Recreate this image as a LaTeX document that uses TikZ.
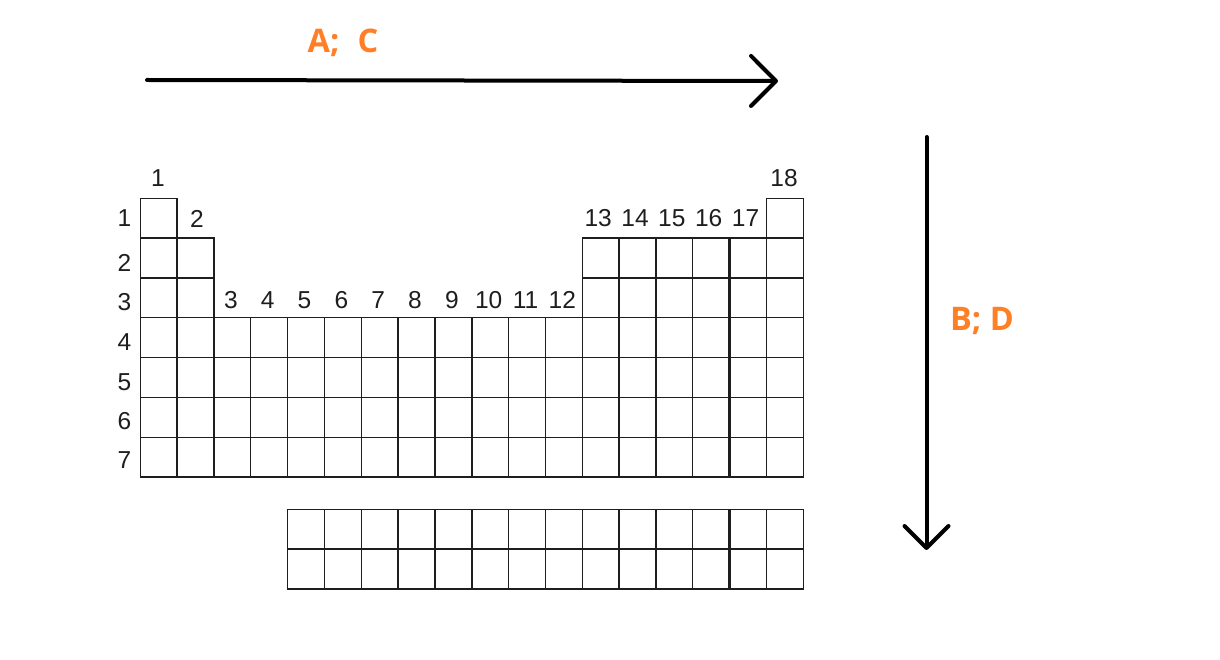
\documentclass[tikz,border=0pt]{standalone}
\usepackage{fontspec}
\setmainfont{Liberation Sans}
\newfontfamily\tagfont{Open Sans}
\usetikzlibrary{arrows.meta}
\definecolor{orng}{HTML}{FF7F27}
\definecolor{ink}{HTML}{1E1E1E}
\begin{document}
\begin{tikzpicture}[x=1pt,y=-1pt,
  cell/.style={draw=ink,line width=1.3pt},
  heavy/.style={draw=ink,line width=2.3pt},
  num/.style={font=\fontsize{24.5}{24.5}\selectfont,text=ink,inner sep=0pt,anchor=base},
  tag/.style={font=\tagfont\bfseries\fontsize{32.5}{32.5}\selectfont,text=orng,inner sep=0pt,anchor=base},
  bigarrow/.style={draw=black,line width=4pt,line cap=round,line join=round}]
\useasboundingbox (0,0) rectangle (1220,660);
\def\cw{36.83}
\def\rh{39.82}
% main table cells
\foreach \r/\cols in {1/{1,18},2/{1,2,13,14,15,16,17,18},3/{1,2,13,14,15,16,17,18},4/{1,...,18},5/{1,...,18},6/{1,...,18},7/{1,...,18}}{
  \foreach \c in \cols {
    \draw[cell] ({140.3+(\c-1)*\cw},{198.3+(\r-1)*\rh}) rectangle ++(\cw,\rh);
  }
}
% lanthanide / actinide rows
\foreach \r in {0,1}{
  \foreach \c in {5,...,18}{
    \draw[cell] ({140.3+(\c-1)*\cw},{509.3+\r*39.85}) rectangle ++(\cw,39.85);
  }
}
% heavier lines
\draw[heavy] (140.3,238.1) -- (177.1,238.1);
\draw[heavy] (766.5,238.1) -- (803.3,238.1);
\draw[heavy] (213.96,317.8) -- (213.96,477);
\draw[heavy] (471.8,317.8) -- (471.8,477);
\draw[heavy] (729.6,238.1) -- (729.6,477);
\draw[heavy] (287.6,549.15) -- (803.3,549.15);
\draw[heavy] (471.8,509.3) -- (471.8,589);
\draw[heavy] (729.6,509.3) -- (729.6,589);
% group labels
\node[num] (g1) at (158,187) {1};
\node[num] (g2) at (197,228) {2};
\foreach \g in {3,...,12}{
  \node[num] (g\g) at ({140.3+(\g-0.5)*\cw-1.5},308) {\g};
}
\foreach \g in {13,...,17}{
  \node[num] (g\g) at ({140.3+(\g-0.5)*\cw-2.5},226.7) {\g};
}
\node[num] (g18) at (784,186.7) {18};
% period labels
\foreach \p/\yb in {1/227,2/271.5,3/310,4/350,5/390,6/429,7/468}{
  \node[num] (p\p) at (124.5,\yb) {\p};
}
% orange tags
\node[tag] (ac) at (343,53) {A;\hspace{18pt}C};
\node[tag] (bd) at (982,330) {B; D};
% arrows
\coordinate (hs) at (147,80);
\coordinate (he) at (778,81);
\coordinate (vs) at (926.5,137);
\coordinate (ve) at (926.5,550);
\draw[bigarrow,-{Straight Barb[length=25pt,width=50pt,round]}] (hs) -- (he);
\draw[bigarrow,-{Straight Barb[length=22pt,width=44pt,round]}] (vs) -- (ve);
\end{tikzpicture}
\end{document}
